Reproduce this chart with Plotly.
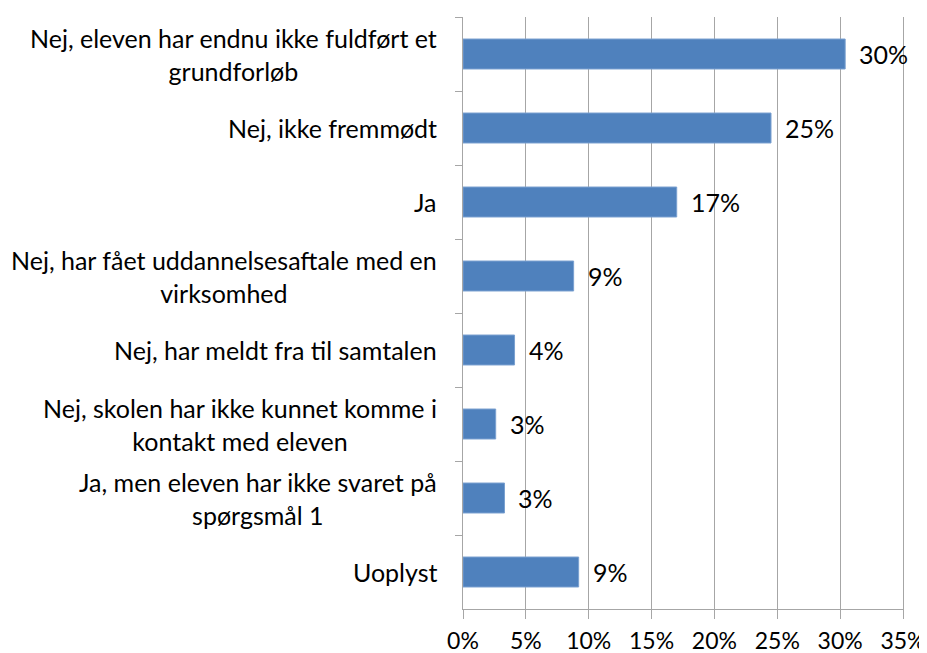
import plotly.graph_objects as go

categories = [
    "Nej, eleven har endnu ikke fuldført et<br>grundforløb",
    "Nej, ikke fremmødt",
    "Ja",
    "Nej, har fået uddannelsesaftale med en<br>virksomhed",
    "Nej, har meldt fra til samtalen",
    "Nej, skolen har ikke kunnet komme i<br>kontakt med eleven",
    "Ja, men eleven har ikke svaret på<br>spørgsmål 1",
    "Uoplyst",
]
values = [0.304, 0.245, 0.170, 0.088, 0.041, 0.026, 0.033, 0.092]
value_labels = ["30%", "25%", "17%", "9%", "4%", "3%", "3%", "9%"]
x_ticks = [0, 0.05, 0.10, 0.15, 0.20, 0.25, 0.30, 0.35]
x_ticklabels = ["0%", "5%", "10%", "15%", "20%", "25%", "30%", "35%"]

FONT = "Lato"
FS = 25
GRID = "#a6a6a6"

fig = go.Figure()
fig.add_trace(go.Bar(
    x=values, y=categories, orientation="h",
    marker=dict(color="#4f81bd", line=dict(color="#7aa0d0", width=1)),
    hoverinfo="skip",
))

annotations = []
for c in categories:
    annotations.append(dict(
        x=0, xref="paper", y=c, yref="y", text=c, showarrow=False,
        xanchor="right", yanchor="middle", align="center", xshift=-24,
        font=dict(family=FONT, size=FS, color="#000000"),
    ))
for v, c, t in zip(values, categories, value_labels):
    annotations.append(dict(
        x=v, xref="x", y=c, yref="y", text=t, showarrow=False,
        xanchor="left", yanchor="middle", xshift=12,
        font=dict(family=FONT, size=FS, color="#000000"),
    ))

fig.update_layout(
    width=919, height=645,
    margin=dict(l=455, r=24, t=9, b=44, autoexpand=False),
    paper_bgcolor="white", plot_bgcolor="white",
    bargap=0.595,
    showlegend=False,
    annotations=annotations,
    font=dict(family=FONT, size=FS, color="#000000"),
    xaxis=dict(
        range=[0, 0.35], tickvals=x_ticks, ticktext=x_ticklabels,
        showgrid=True, gridcolor=GRID, gridwidth=1,
        showline=True, linecolor=GRID, linewidth=1,
        ticks="outside", ticklen=9, tickcolor=GRID,
        zeroline=False, fixedrange=True, automargin=False,
        ticklabeloverflow="allow", ticklabelstandoff=2,
        tickfont=dict(family=FONT, size=23, color="#000000"),
    ),
    yaxis=dict(
        autorange="reversed", showticklabels=False,
        showline=True, linecolor=GRID, linewidth=1, mirror=True,
        ticks="outside", ticklen=7, tickcolor=GRID, tickson="boundaries",
        showgrid=False, zeroline=False, fixedrange=True, automargin=False,
    ),
)

fig.write_html("out.html")
